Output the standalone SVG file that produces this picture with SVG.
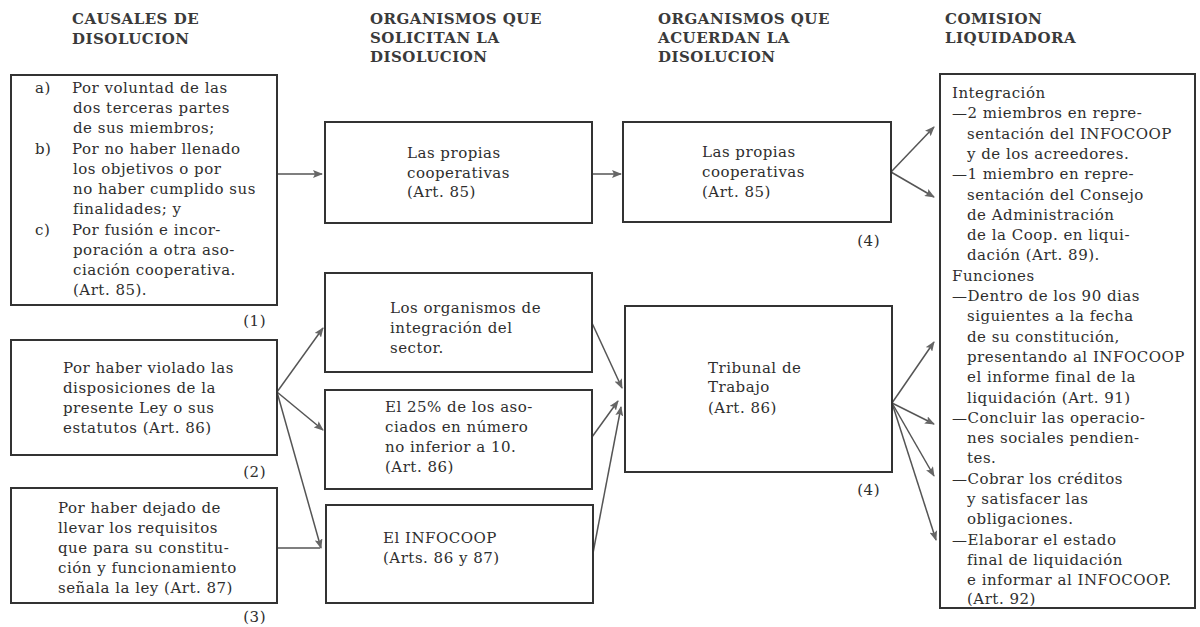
<svg xmlns="http://www.w3.org/2000/svg" width="1200" height="627" viewBox="0 0 1200 627">
<style>
.bg{fill:#ffffff}
.box{fill:none;stroke:#333;stroke-width:2}
.hd{font-family:"DejaVu Serif","Liberation Serif",serif;font-size:15px;font-weight:bold;fill:#3a3a3a;letter-spacing:0.5px}
.t{font-family:"DejaVu Serif","Liberation Serif",serif;font-size:15px;fill:#2e2e2e;letter-spacing:0.5px}
.ln{fill:none;stroke:#555;stroke-width:1.5}
</style>
<defs>
<marker id="ah" markerWidth="10" markerHeight="8" refX="9" refY="4" orient="auto" markerUnits="userSpaceOnUse">
<path d="M0,0 L10,4 L0,8 L2,4 z" fill="#666"/>
</marker>
</defs>
<rect class="bg" x="0" y="0" width="1200" height="627"/>

<g id="headers">
<text class="hd" x="72" y="24">CAUSALES DE</text>
<text class="hd" x="72" y="44">DISOLUCION</text>
<text class="hd" x="370" y="24">ORGANISMOS QUE</text>
<text class="hd" x="370" y="43">SOLICITAN LA</text>
<text class="hd" x="370" y="62">DISOLUCION</text>
<text class="hd" x="658" y="24">ORGANISMOS QUE</text>
<text class="hd" x="658" y="43">ACUERDAN LA</text>
<text class="hd" x="658" y="62">DISOLUCION</text>
<text class="hd" x="945" y="24">COMISION</text>
<text class="hd" x="945" y="43">LIQUIDADORA</text>
</g>

<g id="connectors">
<line class="ln" x1="277" y1="174" x2="322" y2="174" marker-end="url(#ah)"/>
<line class="ln" x1="277" y1="392" x2="323" y2="328" marker-end="url(#ah)"/>
<line class="ln" x1="277" y1="392" x2="323" y2="430" marker-end="url(#ah)"/>
<line class="ln" x1="277" y1="392" x2="321" y2="548" marker-end="url(#ah)"/>
<line class="ln" x1="277" y1="548" x2="320" y2="548"/>
<line class="ln" x1="592" y1="174" x2="621" y2="174" marker-end="url(#ah)"/>
<line class="ln" x1="592" y1="323" x2="622" y2="388" marker-end="url(#ah)"/>
<line class="ln" x1="592" y1="437" x2="618" y2="401" marker-end="url(#ah)"/>
<line class="ln" x1="593" y1="553" x2="621" y2="407" marker-end="url(#ah)"/>
<line class="ln" x1="891" y1="172" x2="934" y2="127" marker-end="url(#ah)"/>
<line class="ln" x1="891" y1="172" x2="934" y2="197" marker-end="url(#ah)"/>
<line class="ln" x1="892" y1="403" x2="934" y2="342" marker-end="url(#ah)"/>
<line class="ln" x1="892" y1="403" x2="934" y2="424" marker-end="url(#ah)"/>
<line class="ln" x1="892" y1="403" x2="934" y2="476" marker-end="url(#ah)"/>
<line class="ln" x1="892" y1="403" x2="936" y2="540" marker-end="url(#ah)"/>
</g>

<g id="causal1">
<rect class="box" x="11" y="75" width="266" height="230"/>
<text class="t" x="35" y="93">a)</text>
<text class="t" x="72" y="93">Por voluntad de las</text>
<text class="t" x="73" y="113">dos terceras partes</text>
<text class="t" x="73" y="133">de sus miembros;</text>
<text class="t" x="35" y="154">b)</text>
<text class="t" x="72" y="154">Por no haber llenado</text>
<text class="t" x="73" y="174">los objetivos o por</text>
<text class="t" x="73" y="194">no haber cumplido sus</text>
<text class="t" x="73" y="214">finalidades; y</text>
<text class="t" x="35" y="235">c)</text>
<text class="t" x="72" y="235">Por fusión e incor-</text>
<text class="t" x="73" y="255">poración a otra aso-</text>
<text class="t" x="73" y="275">ciación cooperativa.</text>
<text class="t" x="73" y="295">(Art. 85).</text>
<text class="t" x="266" y="326" text-anchor="end">(1)</text>
</g>

<g id="causal2">
<rect class="box" x="11" y="340" width="266" height="115"/>
<text class="t" x="63" y="373">Por haber violado las</text>
<text class="t" x="63" y="393">disposiciones de la</text>
<text class="t" x="63" y="413">presente Ley o sus</text>
<text class="t" x="63" y="433">estatutos (Art. 86)</text>
<text class="t" x="266" y="477" text-anchor="end">(2)</text>
</g>

<g id="causal3">
<rect class="box" x="11" y="488" width="266" height="115"/>
<text class="t" x="58" y="513">Por haber dejado de</text>
<text class="t" x="58" y="533">llevar los requisitos</text>
<text class="t" x="58" y="553">que para su constitu-</text>
<text class="t" x="58" y="573">ción y funcionamiento</text>
<text class="t" x="58" y="593">señala la ley (Art. 87)</text>
<text class="t" x="266" y="622" text-anchor="end">(3)</text>
</g>

<g id="sol-propias">
<rect class="box" x="325" y="122" width="267" height="101"/>
<text class="t" x="407" y="158">Las propias</text>
<text class="t" x="407" y="178">cooperativas</text>
<text class="t" x="407" y="197">(Art. 85)</text>
</g>

<g id="sol-organismos">
<rect class="box" x="325" y="273" width="267" height="99"/>
<text class="t" x="390" y="313">Los organismos de</text>
<text class="t" x="390" y="333">integración del</text>
<text class="t" x="390" y="353">sector.</text>
</g>

<g id="sol-asociados">
<rect class="box" x="325" y="390" width="267" height="99"/>
<text class="t" x="385" y="412">El 25% de los aso-</text>
<text class="t" x="385" y="432">ciados en número</text>
<text class="t" x="385" y="452">no inferior a 10.</text>
<text class="t" x="385" y="472">(Art. 86)</text>
</g>

<g id="sol-infocoop">
<rect class="box" x="326" y="505" width="267" height="98"/>
<text class="t" x="383" y="543">El INFOCOOP</text>
<text class="t" x="383" y="563">(Arts. 86 y 87)</text>
</g>

<g id="acu-propias">
<rect class="box" x="623" y="122" width="268" height="100"/>
<text class="t" x="702" y="157">Las propias</text>
<text class="t" x="702" y="177">cooperativas</text>
<text class="t" x="702" y="197">(Art. 85)</text>
<text class="t" x="880" y="246" text-anchor="end">(4)</text>
</g>

<g id="acu-tribunal">
<rect class="box" x="625" y="306" width="267" height="166"/>
<text class="t" x="708" y="373">Tribunal de</text>
<text class="t" x="708" y="392">Trabajo</text>
<text class="t" x="708" y="413">(Art. 86)</text>
<text class="t" x="880" y="495" text-anchor="end">(4)</text>
</g>

<g id="comision">
<rect class="box" x="940" y="74" width="255" height="534"/>
<text class="t" x="952" y="98">Integración</text>
<text class="t" x="952" y="118">—2 miembros en repre-</text>
<text class="t" x="967" y="139">sentación del INFOCOOP</text>
<text class="t" x="967" y="159">y de los acreedores.</text>
<text class="t" x="952" y="179">—1 miembro en repre-</text>
<text class="t" x="967" y="200">sentación del Consejo</text>
<text class="t" x="967" y="220">de Administración</text>
<text class="t" x="967" y="240">de la Coop. en liqui-</text>
<text class="t" x="967" y="260">dación (Art. 89).</text>
<text class="t" x="952" y="281">Funciones</text>
<text class="t" x="952" y="301">—Dentro de los 90 dias</text>
<text class="t" x="967" y="321">siguientes a la fecha</text>
<text class="t" x="967" y="342">de su constitución,</text>
<text class="t" x="967" y="362">presentando al INFOCOOP</text>
<text class="t" x="967" y="382">el informe final de la</text>
<text class="t" x="967" y="403">liquidación (Art. 91)</text>
<text class="t" x="952" y="423">—Concluir las operacio-</text>
<text class="t" x="967" y="443">nes sociales pendien-</text>
<text class="t" x="967" y="463">tes.</text>
<text class="t" x="952" y="484">—Cobrar los créditos</text>
<text class="t" x="967" y="504">y satisfacer las</text>
<text class="t" x="967" y="524">obligaciones.</text>
<text class="t" x="952" y="545">—Elaborar el estado</text>
<text class="t" x="967" y="565">final de liquidación</text>
<text class="t" x="967" y="585">e informar al INFOCOOP.</text>
<text class="t" x="967" y="604">(Art. 92)</text>
</g>
</svg>
